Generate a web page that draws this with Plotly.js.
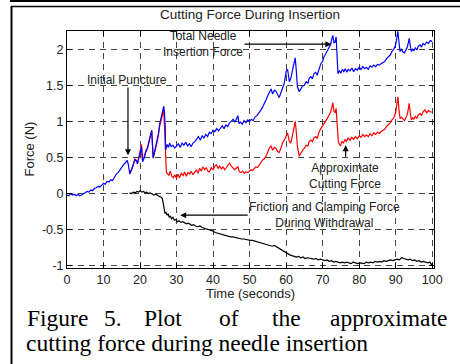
<!DOCTYPE html>
<html>
<head>
<meta charset="utf-8">
<script src="https://cdn.plot.ly/plotly-3.0.1.min.js"></script>
<style>html,body{margin:0;padding:0;background:#fff;}#chart{width:460px;height:364px;}</style>
</head>
<body>
<div id="chart"></div>
<script>
// ---- data ----
const xTickVals = [0,10,20,30,40,50,60,70,80,90,100];
const yTickVals = [-1,-0.5,0,0.5,1,1.5,2];
const yTickText = ['-1','-0.5','0','0.5','1','1.5','2'];

const totalT = [0,0.5,1,1.5,2,2.5,3,3.5,4,4.5,5,5.5,6,6.5,7,7.5,8,8.5,9,9.5,10,10.5,11,11.5,12,12.5,13,13.5,14,14.5,15,15.5,16,16.5,16.8,17.2,17.7,18.2,18.6,19.0,19.3,19.8,20.4,20.7,21.2,21.6,22.0,22.4,22.8,23.2,23.6,24.0,24.5,25.0,25.4,25.9,26.3,26.5,26.7,26.9,27.0,27.4,27.8,28.1,28.5,29,29.5,30,30.5,31,31.5,32,32.5,33,33.5,34,34.5,35,35.5,36,36.5,37,37.5,38,38.5,39,39.5,40,40.5,41,41.5,42,42.5,43,43.5,44,44.5,45,45.5,46,46.5,46.8,47.1,47.5,48,48.5,49,49.5,50,50.5,51,51.5,52,52.5,53,53.5,54,54.5,55,55.5,55.9,56.3,56.8,57.2,57.7,58.1,58.6,59,59.5,60,60.4,60.9,61.3,61.8,62.2,62.5,62.8,63.1,63.6,64,64.5,65,65.5,66,66.3,66.8,67.2,67.6,68.1,68.5,69,69.5,70,70.4,70.8,71.2,71.7,72.2,72.5,72.8,73.1,73.4,73.7,74.0,74.2,74.6,75.0,75.4,75.8,76.2,76.6,77,77.5,78,78.5,79,79.5,80,80.5,81,81.5,82,82.5,83,83.5,84,84.5,85,85.5,86,86.5,87,87.5,88,88.5,89,89.5,90,90.3,90.6,90.9,91.2,91.6,92.0,92.4,92.8,93.2,93.5,93.7,94.0,94.3,94.7,95.0,95.4,95.8,96.2,96.7,97.1,97.5,98,98.5,99,99.5,100];
const totalF = [-0.02,-0.03,0.0,-0.02,-0.01,-0.03,-0.01,-0.03,-0.02,0.0,0.01,0.03,0.02,0.05,0.04,0.07,0.08,0.1,0.09,0.12,0.14,0.13,0.17,0.16,0.19,0.18,0.23,0.27,0.29,0.33,0.36,0.4,0.43,0.46,0.4,0.27,0.33,0.4,0.47,0.45,0.41,0.52,0.65,0.44,0.5,0.58,0.62,0.7,0.8,0.88,0.49,0.58,0.68,0.82,0.97,1.08,1.17,1.21,1.12,0.93,0.6,0.68,0.64,0.7,0.65,0.67,0.63,0.66,0.69,0.64,0.7,0.67,0.71,0.66,0.69,0.65,0.7,0.72,0.76,0.79,0.74,0.8,0.77,0.82,0.79,0.85,0.83,0.88,0.86,0.9,0.87,0.91,0.94,0.9,0.95,0.93,0.98,1.0,1.03,0.99,1.05,1.08,0.97,0.99,0.96,1.01,0.98,1.02,1.0,1.03,1.01,1.06,1.08,1.11,1.15,1.19,1.26,1.3,1.36,1.4,1.45,1.38,1.43,1.42,1.36,1.33,1.4,1.47,1.53,1.69,1.72,1.55,1.6,1.72,1.8,1.88,1.7,1.48,1.41,1.45,1.49,1.5,1.55,1.53,1.6,1.62,1.59,1.66,1.68,1.64,1.74,1.8,1.83,1.9,1.93,1.97,2.03,2.07,2.14,2.19,2.09,2.1,2.17,1.9,1.66,1.7,1.67,1.72,1.69,1.73,1.68,1.72,1.7,1.74,1.69,1.73,1.71,1.75,1.72,1.76,1.73,1.75,1.72,1.77,1.75,1.78,1.76,1.79,1.78,1.8,1.82,1.83,1.87,1.9,1.92,1.97,2.0,2.06,2.15,2.25,2.1,1.97,2.0,1.96,1.95,2.0,2.03,2.1,2.15,2.05,1.97,2.0,1.98,2.02,1.99,2.04,2.06,2.03,2.08,2.06,2.1,2.08,2.12,2.11];

const cutT = [17.1,17.7,18.2,18.6,19.0,19.3,19.8,20.4,20.7,21.2,21.6,22.0,22.4,22.8,23.2,23.6,24.0,24.5,25.0,25.4,25.9,26.3,26.5,26.8,27.0,27.2,27.6,27.9,28.3,28.7,29.1,29.5,30,30.4,30.8,31.3,31.8,32.2,32.7,33.1,33.6,34,34.5,35,35.4,35.9,36.3,36.8,37.2,37.7,38.1,38.6,39,39.5,40,40.5,40.9,41.4,41.8,42.3,42.7,43.2,43.6,44.1,44.5,45,45.4,45.9,46.3,46.8,47.2,47.7,48.1,48.6,49,49.5,49.9,50.4,50.8,51.3,51.7,52.2,52.7,53.1,53.6,54,54.5,55,55.4,55.9,56.3,56.8,57.2,57.7,58.1,58.6,59,59.5,60,60.4,60.9,61.3,61.8,62.2,62.5,62.8,63.1,63.6,64,64.5,65,65.5,66,66.3,66.8,67.2,67.6,68.1,68.5,69,69.5,70,70.4,70.8,71.2,71.7,72.2,72.5,72.8,73.1,73.4,73.7,74.0,74.3,74.6,74.9,75.3,75.7,76.1,76.5,77,77.5,78,78.5,79,79.5,80,80.5,81,81.5,82,82.5,83,83.5,84,84.5,85,85.5,86,86.5,87,87.5,88,88.5,89,89.5,90,90.3,90.6,90.9,91.2,91.6,92.0,92.4,92.8,93.2,93.5,93.7,94.0,94.3,94.7,95,95.4,95.8,96.2,96.7,97.1,97.5,98,98.5,99,99.5,100];
const cutF = [0.29,0.34,0.41,0.48,0.46,0.42,0.53,0.68,0.46,0.52,0.6,0.63,0.72,0.8,0.87,0.5,0.57,0.67,0.8,0.94,1.04,1.12,1.16,0.8,0.45,0.3,0.27,0.25,0.31,0.24,0.22,0.26,0.21,0.27,0.22,0.28,0.25,0.3,0.24,0.29,0.27,0.31,0.26,0.3,0.33,0.28,0.35,0.31,0.37,0.33,0.36,0.31,0.3,0.36,0.33,0.38,0.4,0.35,0.38,0.34,0.37,0.33,0.36,0.4,0.42,0.38,0.36,0.33,0.35,0.37,0.3,0.29,0.31,0.28,0.3,0.29,0.31,0.33,0.32,0.35,0.37,0.36,0.4,0.43,0.47,0.48,0.52,0.58,0.63,0.66,0.6,0.64,0.63,0.58,0.57,0.63,0.7,0.74,0.8,0.84,0.72,0.7,0.82,0.92,1.0,0.85,0.65,0.52,0.56,0.6,0.63,0.67,0.66,0.72,0.74,0.72,0.77,0.79,0.76,0.85,0.9,0.93,0.97,1.0,1.03,1.08,1.13,1.2,1.26,1.14,1.12,1.18,0.95,0.72,0.68,0.66,0.72,0.7,0.75,0.72,0.77,0.74,0.78,0.75,0.79,0.76,0.8,0.78,0.82,0.79,0.81,0.79,0.83,0.8,0.84,0.82,0.85,0.83,0.86,0.88,0.89,0.93,0.95,0.98,1.02,1.05,1.12,1.22,1.34,1.17,1.04,1.06,1.03,1.01,1.05,1.1,1.18,1.25,1.12,1.02,1.05,1.03,1.07,1.04,1.09,1.11,1.08,1.13,1.16,1.12,1.15,1.13,1.13];

const fricT = [17.1,17.6,18.2,18.7,19.2,19.6,20,20.5,21,21.4,21.8,22.3,22.8,23.3,23.8,24.3,24.8,25.3,25.8,26.1,26.3,26.5,26.8,27.1,27.4,27.7,28.0,28.3,28.6,29.0,29.4,29.8,30.2,30.7,31.2,31.7,32.2,32.7,33.2,33.7,34.2,34.7,35.2,35.8,36.4,37,37.6,38.2,38.8,39.4,40,40.6,41.2,41.8,42.4,43,43.6,44.2,44.8,45.4,46,46.6,47.2,47.8,48.4,49,49.6,50.2,50.8,51.4,52,52.6,53.2,53.8,54.4,55,55.6,56.2,56.8,57.4,58,58.6,59.2,59.8,60.4,61,61.6,62.2,62.8,63.4,64,64.6,65.2,65.8,66.4,67,67.6,68.2,68.8,69.4,70,70.6,71.2,71.8,72.4,73,73.6,74.2,74.8,75.4,76,76.6,77.2,77.8,78.4,79,79.6,80.2,80.8,81.4,82,82.6,83.2,83.8,84.4,85,85.6,86.2,86.8,87.4,88,88.6,89.2,89.8,90.4,91,91.6,92.2,92.8,93.4,94,94.6,95.2,95.8,96.4,97,97.6,98.2,98.8,99.4,99.8,100];
const fricF = [0.01,0.0,0.02,0.01,0.03,0.02,0.04,0.02,0.03,0.01,0.02,0.0,0.01,-0.01,-0.02,-0.01,-0.03,-0.04,-0.05,-0.07,-0.12,-0.19,-0.27,-0.26,-0.3,-0.28,-0.33,-0.31,-0.35,-0.33,-0.37,-0.36,-0.39,-0.38,-0.4,-0.39,-0.41,-0.42,-0.41,-0.43,-0.44,-0.43,-0.45,-0.46,-0.45,-0.47,-0.48,-0.48,-0.5,-0.51,-0.52,-0.54,-0.55,-0.55,-0.57,-0.57,-0.58,-0.59,-0.6,-0.6,-0.61,-0.62,-0.62,-0.63,-0.63,-0.64,-0.64,-0.65,-0.65,-0.66,-0.67,-0.68,-0.69,-0.7,-0.71,-0.72,-0.72,-0.73,-0.72,-0.74,-0.75,-0.77,-0.79,-0.81,-0.83,-0.85,-0.86,-0.87,-0.88,-0.87,-0.89,-0.88,-0.9,-0.89,-0.9,-0.9,-0.91,-0.9,-0.92,-0.91,-0.92,-0.93,-0.92,-0.94,-0.93,-0.95,-0.94,-0.95,-0.96,-0.95,-0.96,-0.95,-0.96,-0.97,-0.95,-0.96,-0.97,-0.96,-0.96,-0.97,-0.95,-0.96,-0.95,-0.96,-0.94,-0.95,-0.94,-0.95,-0.93,-0.94,-0.93,-0.92,-0.93,-0.92,-0.91,-0.92,-0.89,-0.9,-0.91,-0.92,-0.91,-0.93,-0.92,-0.94,-0.93,-0.95,-0.94,-0.95,-0.96,-0.95,-0.99,-0.97];

const titleText = 'Cutting Force During Insertion';
const xTitle = 'Time (seconds)';
const yTitle = 'Force (N)';
const captionLine1 = ['Figure','5.','Plot','of','the','approximate'];
const captionLine1Left = [25,102,142,217,270,328];
const captionLine2 = 'cutting force during needle insertion';

// ---- layout helpers (pixel -> paper) ----
const M = {l:67, r:26, t:31, b:96};
const W = 460, H = 364;
const pw = W - M.l - M.r, ph = H - M.t - M.b;
const PX = px => (px - M.l) / pw;
const PY = py => (H - M.b - py) / ph;

const sans = 'Liberation Sans, Arial, sans-serif';
const serif = 'Liberation Serif, Times New Roman, serif';

const traces = [
  {x: cutT, y: cutF, type:'scatter', mode:'lines', line:{color:'#ff0000', width:1.2}, name:'Approximate Cutting Force'},
  {x: totalT, y: totalF, type:'scatter', mode:'lines', line:{color:'#0000ff', width:1.2}, name:'Total Needle Insertion Force'},
  {x: fricT, y: fricF, type:'scatter', mode:'lines', line:{color:'#000000', width:1.2}, name:'Friction and Clamping Force'}
];

const annFont = {family: sans, size: 12, color:'#222'};
const arrowBase = {xref:'x', yref:'y', axref:'x', ayref:'y', text:'', showarrow:true, arrowhead:2, arrowsize:1, arrowwidth:1.2, arrowcolor:'#000'};
const annotations = [
  {x:37.3, y:2.07, xref:'x', yref:'y', xanchor:'center', yanchor:'middle', text:'Total Needle<br>Insertion Force', showarrow:false, font:annFont, align:'center'},
  Object.assign({x:72.4, y:2.07, ax:48.2, ay:2.07}, arrowBase),
  {x:16.5, y:1.58, xref:'x', yref:'y', xanchor:'center', yanchor:'middle', text:'Initial Puncture', showarrow:false, font:annFont},
  Object.assign({x:16.7, y:0.53, ax:16.7, ay:1.49}, arrowBase),
  {x:76.1, y:0.24, xref:'x', yref:'y', xanchor:'center', yanchor:'middle', text:'Approximate<br>Cutting Force', showarrow:false, font:annFont, align:'center'},
  Object.assign({x:76.3, y:0.67, ax:76.3, ay:0.49}, arrowBase),
  {x:70.6, y:-0.30, xref:'x', yref:'y', xanchor:'center', yanchor:'middle', text:'Friction and Clamping Force<br>During Withdrawal', showarrow:false, font:annFont, align:'center'},
  Object.assign({x:31.0, y:-0.30, ax:49.9, ay:-0.30}, arrowBase),
  {x:PX(29), y:PY(149.5), xref:'paper', yref:'paper', xanchor:'center', yanchor:'middle', text:yTitle, textangle:-90, showarrow:false, font:{family:sans, size:13, color:'#222'}},
  {x:PX(250.5), y:PY(293), xref:'paper', yref:'paper', xanchor:'center', yanchor:'middle', text:xTitle, showarrow:false, font:{family:sans, size:13, color:'#222'}},
  {x:PX(250), y:PY(15), xref:'paper', yref:'paper', xanchor:'center', yanchor:'middle', text:titleText, showarrow:false, font:{family:sans, size:13.5, color:'#222'}}
];
captionLine1.forEach((w,i) => annotations.push({
  x:PX(captionLine1Left[i]), y:PY(318), xref:'paper', yref:'paper', xanchor:'left', yanchor:'middle',
  text:w, showarrow:false, font:{family:serif, size:23.5, color:'#000'}
}));
annotations.push({x:PX(24), y:PY(343), xref:'paper', yref:'paper', xanchor:'left', yanchor:'middle',
  text:captionLine2, showarrow:false, font:{family:serif, size:23.5, color:'#000'}});

const shapes = [
  {type:'line', xref:'paper', yref:'paper', x0:PX(10), x1:PX(460), y0:PY(1), y1:PY(1), line:{color:'#000', width:2}},
  {type:'line', xref:'paper', yref:'paper', x0:PX(11), x1:PX(460), y0:PY(6.5), y1:PY(6.5), line:{color:'#000', width:1.6}},
  {type:'line', xref:'paper', yref:'paper', x0:PX(11.5), x1:PX(11.5), y0:PY(6), y1:PY(364), line:{color:'#000', width:2}}
];

const axisCommon = {
  showline:true, linecolor:'#000', linewidth:1, mirror:'ticks',
  ticks:'inside', ticklen:5, tickcolor:'#000', tickwidth:1,
  showgrid:true, gridcolor:'#444', gridwidth:1, griddash:'6px,5px',
  zeroline:false, tickfont:{family:sans, size:12.5, color:'#222'}, fixedrange:true
};

const layout = {
  width:W, height:H,
  margin:{l:M.l, r:M.r, t:M.t, b:M.b, pad:0},
  paper_bgcolor:'#fff', plot_bgcolor:'#fff',
  showlegend:false,
  xaxis: Object.assign({}, axisCommon, {range:[0,100.5], tickvals:xTickVals, ticktext:xTickVals.map(String)}),
  yaxis: Object.assign({}, axisCommon, {range:[-1.032,2.253], tickvals:yTickVals, ticktext:yTickText}),
  annotations: annotations,
  shapes: shapes
};

Plotly.newPlot('chart', traces, layout, {staticPlot:true, displayModeBar:false});
</script>
</body>
</html>
